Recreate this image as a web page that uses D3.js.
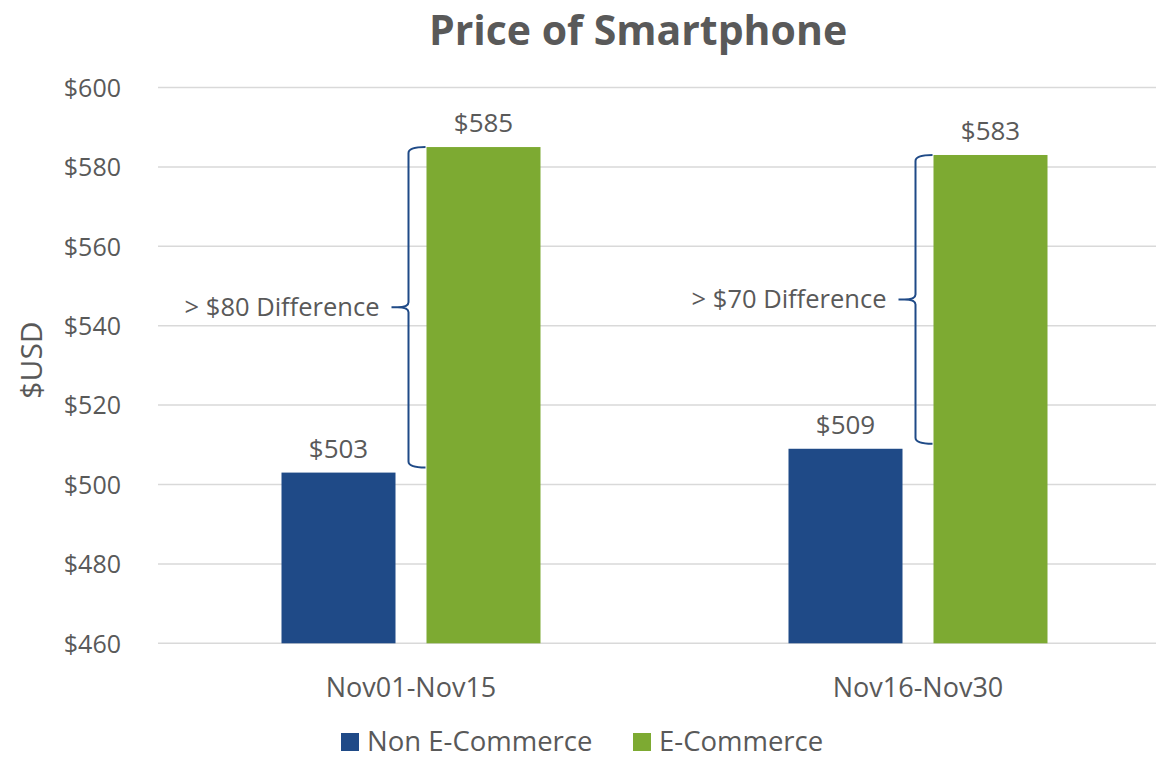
<!DOCTYPE html>
<html>
<head>
<meta charset="utf-8">
<script src="https://cdn.jsdelivr.net/npm/d3@7"></script>
<style>
  html, body { margin: 0; padding: 0; background: #fff; }
  svg { display: block; }
  text { font-family: "Open Sans", "Noto Sans", sans-serif; fill: #595959; }
</style>
</head>
<body>
<svg id="chart" width="1157" height="760"></svg>
<script>
const categories = ["Nov01-Nov15", "Nov16-Nov30"];
const seriesNames = ["Non E-Commerce", "E-Commerce"];
const nonECommerce = [503, 509];
const eCommerce = [585, 583];
const dataLabels = [["$503", "$585"], ["$509", "$583"]];
const diffLabels = ["> $80 Difference", "> $70 Difference"];
const yTicks = [460, 480, 500, 520, 540, 560, 580, 600];
const colors = ["#1F4A87", "#7DAA32"];

const svg = d3.select("#chart");

const y = d3.scaleLinear().domain([460, 600]).range([643.3, 87.5]);
const x0 = d3.scaleBand().domain(categories).range([157.5, 1171.5]).padding(0);
const x1 = d3.scaleBand().domain(seriesNames).paddingInner(31 / 145).paddingOuter(0);

// gridlines
const gridLeft = 158, gridRight = 1156;
svg.append("g").selectAll("line").data(yTicks).join("line")
  .attr("x1", gridLeft).attr("x2", gridRight)
  .attr("y1", d => y(d)).attr("y2", d => y(d))
  .attr("stroke", "#d9d9d9").attr("stroke-width", 1.5);

// y axis labels
const yAxis = d3.axisLeft(y).tickValues(yTicks).tickFormat(d => "$" + d).tickSize(0).tickPadding(0);
const ya = svg.append("g").attr("transform", "translate(121,0)").call(yAxis);
ya.select(".domain").remove();
ya.selectAll("text").style("font-size", "25px").style("fill", "#595959")
  .style("font-family", "'Open Sans', sans-serif").attr("dy", "0.35em");

// y axis title
svg.append("text")
  .attr("transform", `translate(42,360) rotate(-90)`)
  .attr("text-anchor", "middle")
  .style("font-size", "30px")
  .text("$USD");

// title
svg.append("text")
  .attr("x", 638).attr("y", 45)
  .attr("text-anchor", "middle")
  .style("font-size", "41px").style("font-weight", "bold")
  .text("Price of Smartphone");

// bars
const rows = categories.map((c, i) => ({ cat: c, vals: [nonECommerce[i], eCommerce[i]], labels: dataLabels[i] }));
const groups = svg.append("g").selectAll("g").data(rows).join("g");
groups.each(function (r, i) {
  const g = d3.select(this);
  const c = x0(r.cat) + x0.bandwidth() / 2;
  x1.range([c - 129.5, c + 129.5]);
  seriesNames.forEach((s, j) => {
    const bx = x1(s), bw = x1.bandwidth();
    g.append("rect")
      .attr("x", bx).attr("width", bw)
      .attr("y", y(r.vals[j])).attr("height", y(460) - y(r.vals[j]))
      .attr("fill", colors[j]);
    g.append("text")
      .attr("x", bx + bw / 2).attr("y", y(r.vals[j]) - 15)
      .attr("text-anchor", "middle")
      .style("font-size", "26px")
      .text(r.labels[j]);
  });
  // brace annotation
  const gx = x1(seriesNames[1]);
  const top = y(r.vals[1]);
  const bot = y(r.vals[0]) - 5;
  const mid = (top + bot) / 2;
  const vx = gx - 18, tipx = gx - 35;
  const path = d3.path();
  path.moveTo(gx - 1, top);
  path.quadraticCurveTo(vx, top, vx, top + 6);
  path.lineTo(vx, mid - 5);
  path.quadraticCurveTo(vx, mid, tipx + 6, mid);
  path.lineTo(tipx, mid);
  path.moveTo(tipx + 6, mid);
  path.quadraticCurveTo(vx, mid, vx, mid + 5);
  path.lineTo(vx, bot - 6);
  path.quadraticCurveTo(vx, bot, gx - 1, bot);
  g.append("path").attr("d", path.toString())
    .attr("fill", "none").attr("stroke", "#1F4A87").attr("stroke-width", 2);
  g.append("text")
    .attr("x", tipx - 12).attr("y", mid)
    .attr("dy", "0.35em")
    .attr("text-anchor", "end")
    .style("font-size", "25.5px")
    .text(diffLabels[i]);
});

// x axis labels
const xAxis = d3.axisBottom(x0).tickSize(0).tickPadding(0);
const xa = svg.append("g").attr("transform", "translate(0,688)").call(xAxis);
xa.select(".domain").remove();
xa.selectAll("text").style("font-size", "27px").style("fill", "#595959")
  .style("font-family", "'Open Sans', sans-serif").attr("dy", "0.35em").attr("y", 0);

// legend
const legendItems = [
  { name: seriesNames[0], color: colors[0], x: 341 },
  { name: seriesNames[1], color: colors[1], x: 633 }
];
const lg = svg.append("g").selectAll("g").data(legendItems).join("g")
  .attr("transform", d => `translate(${d.x},737)`);
lg.append("rect").attr("y", -4).attr("width", 18).attr("height", 18).attr("fill", d => d.color);
lg.append("text").attr("x", 26).attr("y", 14)
  .style("font-size", "27.5px").text(d => d.name);
</script>
</body>
</html>
